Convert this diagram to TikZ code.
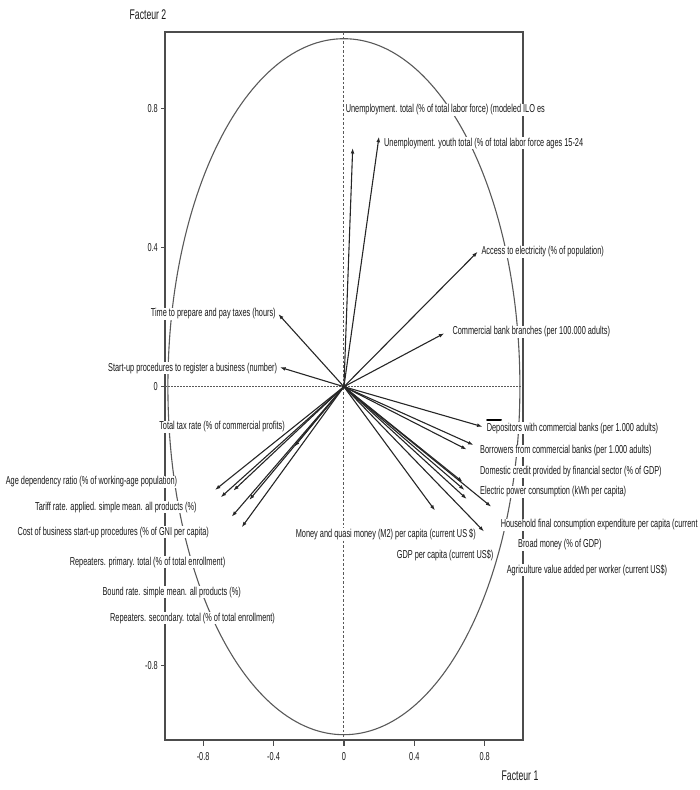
\documentclass[tikz,border=0pt]{standalone}
\usepackage{fontspec}
\setmainfont{Liberation Sans}
\newfontfamily\lblfont[FakeStretch=0.64]{Liberation Sans}
\newfontfamily\axfont[FakeStretch=0.62]{Liberation Sans}
\usetikzlibrary{arrows.meta}
\begin{document}
\begin{tikzpicture}[x=1pt,y=-1pt,
  lbl/.style={font=\lblfont\fontsize{11.5}{13}\selectfont, text=black!90, fill=white, inner sep=0.6pt, anchor=west},
  ticklbl/.style={font=\lblfont\fontsize{11.5}{13}\selectfont, text=black!90, inner sep=0.5pt},
  axlbl/.style={font=\axfont\fontsize{14}{16}\selectfont, text=black!90, inner sep=0pt},
  vec/.style={draw=black!85, line width=1.1pt, -{Latex[length=5.5pt,width=3.8pt]}},
  frameline/.style={draw=black!70, line width=1.6pt},
  circ/.style={draw=black!65, line width=1.1pt},
  vdash/.style={draw=black!65, line width=1pt, dash pattern=on 2.5pt off 2pt},
  hdot/.style={draw=black!65, line width=1pt, dash pattern=on 1.5pt off 1.5pt},
  tickline/.style={draw=black!70, line width=1.2pt}]
\useasboundingbox (0,0) rectangle (699,790);
% frame corners and origin
\coordinate (TL) at (165,32);
\coordinate (BR) at (523,740);
\coordinate (O) at (343.9,386.7);
\draw[frameline] (TL) rectangle (BR);
% correlation circle
\draw[circ] (O) ellipse [x radius=176, y radius=348];
% axes
\coordinate (vtop) at (343.9,32);
\coordinate (vbot) at (343.9,740);
\coordinate (hl) at (165,386.7);
\coordinate (hr) at (523,386.7);
\draw[vdash] (vtop) -- (vbot);
\draw[hdot] (hl) -- (hr);
% x ticks
\foreach \xv/\lab in {203.1/-0.8,273.5/-0.4,343.9/0,414.3/0.4,484.7/0.8}{
  \draw[tickline] (\xv,740) -- (\xv,745.5);
  \node[ticklbl] at (\xv,757) {\lab};
}
% y ticks
\foreach \yv/\lab in {108.3/0.8,247.5/0.4,386.7/0,665.1/-0.8}{
  \draw[tickline] (165,\yv) -- (160.5,\yv);
  \node[ticklbl, anchor=east] at (158.5,\yv) {\lab};
}
\node[axlbl] (f2) at (148,15) {Facteur 2};
\node[axlbl] (f1) at (520,776) {Facteur 1};
% labels
\node[lbl] (n1) at (345,110) {Unemployment. total (\% of total labor force) (modeled ILO es};
\node[lbl] (n2) at (383.3,143.3) {Unemployment. youth total (\% of total labor force ages 15-24};
\node[lbl] (n3) at (480.7,251.7) {Access to electricity (\% of population)};
\node[lbl] (n4) at (451.7,331.7) {Commercial bank branches (per 100.000 adults)};
\node[lbl] (n5) at (150,314) {Time to prepare and pay taxes (hours)};
\node[lbl] (n6) at (107.3,368.3) {Start-up procedures to register a business (number)};
\node[lbl] (n7) at (158.5,426.7) {Total tax rate (\% of commercial profits)};
\node[lbl] (n8) at (5,481.7) {Age dependency ratio (\% of working-age population)};
\node[lbl] (n9) at (34.3,507.3) {Tariff rate. applied. simple mean. all products (\%)};
\node[lbl] (n10) at (16.7,532.3) {Cost of business start-up procedures (\% of GNI per capita)};
\node[lbl] (n11) at (69,562.3) {Repeaters. primary. total (\% of total enrollment)};
\node[lbl] (n12) at (101.7,592.3) {Bound rate. simple mean. all products (\%)};
\node[lbl] (n13) at (109.3,618.3) {Repeaters. secondary. total (\% of total enrollment)};
\node[lbl] (n14) at (295,534) {Money and quasi money (M2) per capita (current US \$)};
\node[lbl] (n15) at (396,555) {GDP per capita (current US\$)};
\node[lbl] (n16) at (486,428.3) {Depositors with commercial banks (per 1.000 adults)};
\node[lbl] (n17) at (479.3,450.7) {Borrowers from commercial banks (per 1.000 adults)};
\node[lbl] (n18) at (479.3,471.7) {Domestic credit provided by financial sector (\% of GDP)};
\node[lbl] (n19) at (479.3,491.7) {Electric power consumption (kWh per capita)};
\node[lbl] (n20) at (500,525) {Household final consumption expenditure per capita (current};
\node[lbl] (n21) at (517.3,545) {Broad money (\% of GDP)};
\node[lbl] (n22) at (506,570) {Agriculture value added per worker (current US\$)};
% small mark above Depositors
\coordinate (bk1) at (487,420);
\coordinate (bk2) at (501,420);
\draw[line width=2pt, black, line cap=round] (bk1) -- (bk2);
% vector tips
\coordinate (u1) at (352.7,148);
\coordinate (u2) at (379,136.7);
\coordinate (u3) at (477.7,251.7);
\coordinate (u4) at (444.3,333.3);
\coordinate (u5) at (278.3,314);
\coordinate (u6) at (280,367.3);
\coordinate (l1) at (215,490);
\coordinate (l2) at (220.7,497.3);
\coordinate (l3) at (233.3,490.7);
\coordinate (l4) at (231.7,516.7);
\coordinate (l5) at (249.3,500);
\coordinate (l6) at (241.7,527.3);
\coordinate (l7) at (294.3,446.7);
\coordinate (r1) at (482.5,426.7);
\coordinate (r2) at (473.5,445);
\coordinate (r3) at (466.7,449.5);
\coordinate (r4) at (462.7,482);
\coordinate (r5) at (464.5,490);
\coordinate (r6) at (466.7,499);
\coordinate (r7) at (491.2,506.7);
\coordinate (r8) at (435,510.5);
\coordinate (r9) at (484,531.5);
\foreach \t in {u1,u2,u3,u4,u5,u6,l1,l2,l3,l4,l5,l6,l7,r1,r2,r3,r4,r5,r6,r7,r8,r9}{
  \draw[vec] (O) -- (\t);
}
\end{tikzpicture}
\end{document}
